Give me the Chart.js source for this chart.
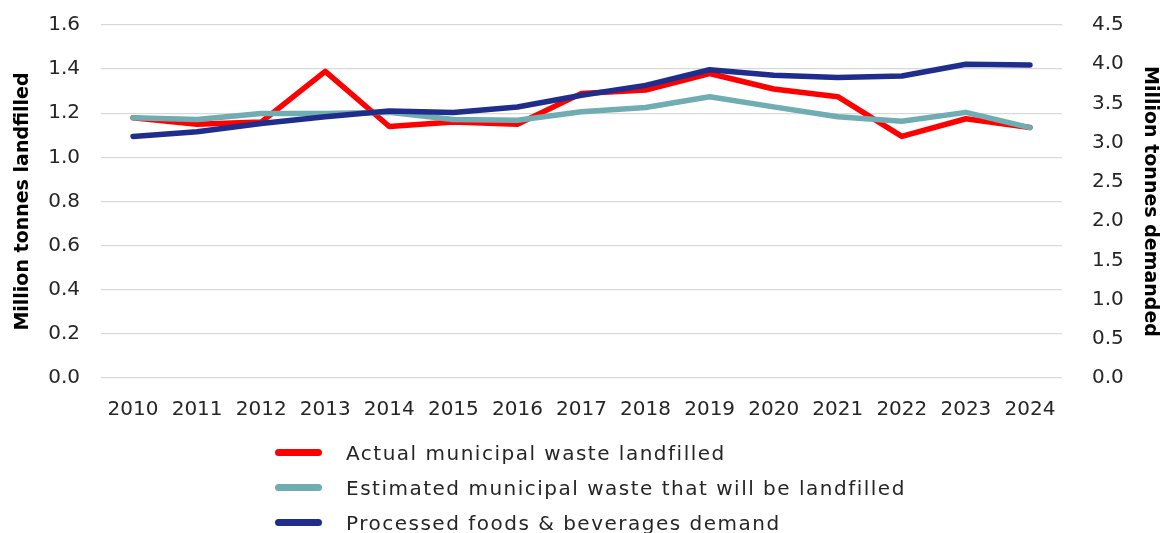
<!DOCTYPE html>
<html><head><meta charset="utf-8">
<script src="https://cdn.jsdelivr.net/npm/chart.js@4.4.1/dist/chart.umd.min.js"></script>
<style>
html,body{margin:0;padding:0;background:#fff;}
#wrap{position:relative;width:1161px;height:533px;overflow:hidden;}
#c{position:absolute;left:0;top:-17px;}
#legend{position:absolute;left:275px;top:435px;font-family:"DejaVu Sans",sans-serif;font-size:20px;letter-spacing:1.5px;color:#262626;}
.li{display:flex;align-items:center;height:35px;}
.sw{width:47px;height:7px;border-radius:4px;margin-right:24px;}
</style></head>
<body><div id="wrap"><canvas id="c" width="1161" height="560"></canvas><div id="legend"></div></div>
<script>
const years = ['2010','2011','2012','2013','2014','2015','2016','2017','2018','2019','2020','2021','2022','2023','2024'];
const actualLandfilled = [1.18,1.15,1.16,1.39,1.14,1.16,1.15,1.29,1.305,1.38,1.31,1.275,1.095,1.175,1.135];
const estimatedLandfilled = [1.18,1.172,1.199,1.199,1.205,1.172,1.168,1.207,1.226,1.275,1.229,1.184,1.164,1.204,1.135];
const foodsDemand = [3.08,3.14,3.245,3.33,3.405,3.385,3.455,3.605,3.73,3.93,3.86,3.83,3.85,4.0,3.99];
const seriesNames = ['Actual municipal waste landfilled','Estimated municipal waste that will be landfilled','Processed foods & beverages demand'];
const leftTitle = 'Million tonnes landfilled';
const rightTitle = 'Million tonnes demanded';

const colors = ['#FF0000','#70ADB2','#1F2E8C'];
const font = {family:'"DejaVu Sans",sans-serif', size:20};
const tickColor = '#262626';

const chart = new Chart(document.getElementById('c'), {
  type:'line',
  data:{
    labels:years,
    datasets:[
      {label:seriesNames[0],data:actualLandfilled,borderColor:colors[0],backgroundColor:colors[0],yAxisID:'y',order:3},
      {label:seriesNames[1],data:estimatedLandfilled,borderColor:colors[1],backgroundColor:colors[1],yAxisID:'y',order:2},
      {label:seriesNames[2],data:foodsDemand,borderColor:colors[2],backgroundColor:colors[2],yAxisID:'y1',order:1}
    ]
  },
  options:{
    responsive:false,animation:false,
    layout:{padding:{left:12,right:0,top:12,bottom:109}},
    elements:{line:{borderWidth:5.5,tension:0,borderCapStyle:'round',borderJoinStyle:'round'},point:{radius:0,hoverRadius:0}},
    plugins:{legend:{display:false},tooltip:{enabled:false}},
    scales:{
      x:{offset:true,grid:{display:false},border:{display:false},
         ticks:{color:tickColor,font:font,padding:12,maxRotation:0,autoSkip:false}},
      y:{position:'left',min:0,max:1.6,afterFit:s=>{s.width=89;},
         ticks:{stepSize:0.2,color:tickColor,font:font,padding:21,callback:v=>Number(v).toFixed(1)},
         grid:{color:'#D9D9D9',lineWidth:1.3,drawTicks:false},border:{display:false},
         title:{display:true,text:leftTitle,color:'#000',font:{family:font.family,size:19,weight:'bold'},padding:0}},
      y1:{position:'right',min:0,max:4.5,afterFit:s=>{s.width=99;},
         ticks:{stepSize:0.5,color:tickColor,font:font,padding:30,callback:v=>Number(v).toFixed(1)},
         grid:{display:false,drawTicks:false},border:{display:false},
         title:{display:true,text:rightTitle,color:'#000',font:{family:font.family,size:19,weight:'bold'},padding:0}}
    }
  }
});
const lg = document.getElementById('legend');
chart.data.datasets.forEach(ds=>{
  const d=document.createElement('div');d.className='li';
  const s=document.createElement('div');s.className='sw';s.style.background=ds.borderColor;
  const t=document.createElement('span');t.textContent=ds.label;
  d.appendChild(s);d.appendChild(t);lg.appendChild(d);
});
</script></body></html>
